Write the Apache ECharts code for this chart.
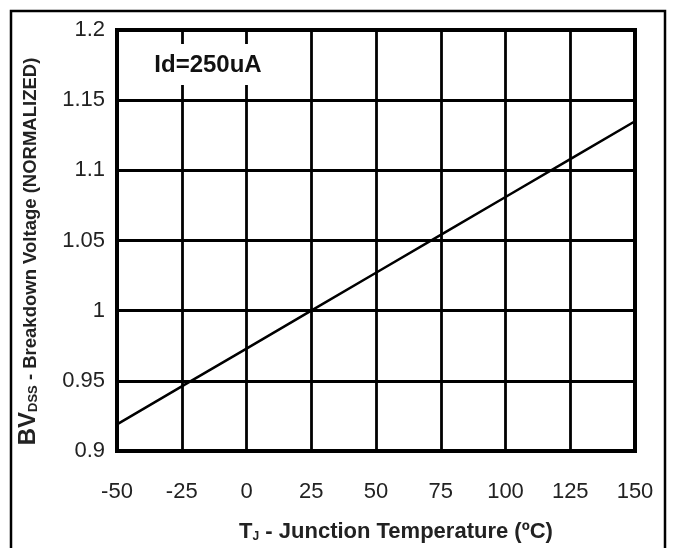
<!DOCTYPE html>
<html>
<head>
<meta charset="utf-8">
<script src="https://cdn.jsdelivr.net/npm/echarts@6/dist/echarts.min.js"></script>
<style>
html,body{margin:0;padding:0;background:#fff;}
#c{width:677px;height:548px;}
</style>
</head>
<body>
<div id="c"></div>
<script>
// Data
const temperatures = [-50, -25, 0, 25, 50, 75, 100, 125, 150];
const bvNormalized = [0.919, 0.946, 0.973, 1.000, 1.027, 1.054, 1.081, 1.108, 1.135];
const xTicks = { min: -50, max: 150, interval: 25 };
const yTicks = { min: 0.9, max: 1.2, interval: 0.05 };
const annotation = 'Id=250uA';

const chart = echarts.init(document.getElementById('c'), null, { renderer: 'canvas' });
const FONT = '"Liberation Sans", Arial, Helvetica, sans-serif';

chart.setOption({
  animation: false,
  backgroundColor: '#fff',
  grid: {
    left: 117, top: 30, right: 42, bottom: 92,
    show: true, borderColor: '#000', borderWidth: 4, backgroundColor: 'transparent'
  },
  xAxis: {
    type: 'value',
    min: xTicks.min, max: xTicks.max, interval: xTicks.interval,
    axisLine: { show: false },
    axisTick: { show: false },
    splitLine: { show: true, lineStyle: { color: '#000', width: 2.8 } },
    axisLabel: { color: '#222', fontSize: 22, fontFamily: FONT, margin: 30 },
    name: '{t|T}{sub|J}{n| - Junction Temperature (ºC)}',
    nameLocation: 'middle',
    nameGap: 66,
    nameTextStyle: {
      padding: [0, 0, 0, 40],
      rich: {
        t: { fontSize: 22, fontWeight: 'bold', fontFamily: FONT, color: '#222', verticalAlign: 'bottom', lineHeight: 26 },
        sub: { fontSize: 12, fontWeight: 'bold', fontFamily: FONT, color: '#222', verticalAlign: 'bottom', lineHeight: 21 },
        n: { fontSize: 22, fontWeight: 'bold', fontFamily: FONT, color: '#222', verticalAlign: 'bottom', lineHeight: 26 }
      }
    }
  },
  yAxis: {
    type: 'value',
    min: yTicks.min, max: yTicks.max, interval: yTicks.interval,
    axisLine: { show: false },
    axisTick: { show: false },
    splitLine: { show: true, lineStyle: { color: '#000', width: 2.8 } },
    axisLabel: { color: '#222', fontSize: 22, fontFamily: FONT, margin: 12 },
    name: '{bv|BV}{sub|DSS}{n| - Breakdown Voltage (NORMALIZED)}',
    nameLocation: 'middle',
    nameRotate: 90,
    nameGap: 77,
    nameTextStyle: {
      padding: [0, 22, 0, 0],
      rich: {
        bv: { fontSize: 24, fontWeight: 'bold', fontFamily: FONT, color: '#222', verticalAlign: 'bottom', lineHeight: 28 },
        sub: { fontSize: 13, fontWeight: 'bold', fontFamily: FONT, color: '#222', verticalAlign: 'bottom', lineHeight: 23 },
        n: { fontSize: 18.5, fontWeight: 'bold', fontFamily: FONT, color: '#222', verticalAlign: 'bottom', lineHeight: 26 }
      }
    }
  },
  series: [{
    type: 'line',
    data: temperatures.map((t, i) => [t, bvNormalized[i]]),
    showSymbol: false,
    symbol: 'none',
    lineStyle: { color: '#000', width: 2.5 },
    z: 5
  }],
  graphic: [
    {
      type: 'rect', z: 200, silent: true,
      shape: { x: 11, y: 11, width: 654, height: 600 },
      style: { fill: 'none', stroke: '#000', lineWidth: 2.5 }
    },
    {
      type: 'group', z: 200,
      children: [
        { type: 'rect', shape: { x: 140, y: 44, width: 132, height: 41 }, style: { fill: '#fff' }, z: 200 },
        { type: 'text', x: 208, y: 65, z: 201,
          style: { text: annotation, fontSize: 24, fontWeight: 'bold', fontFamily: FONT, fill: '#111', align: 'center', verticalAlign: 'middle' } }
      ]
    }
  ]
});
</script>
</body>
</html>
